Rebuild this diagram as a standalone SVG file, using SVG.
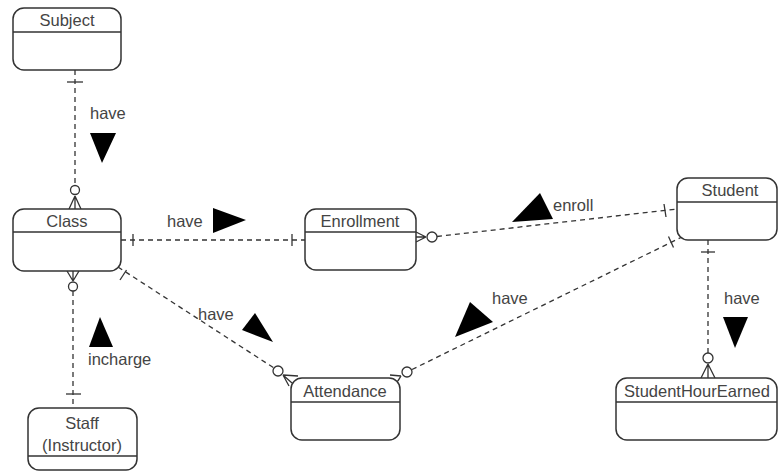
<svg xmlns="http://www.w3.org/2000/svg" width="779" height="473" viewBox="0 0 779 473">
<style>
.box{fill:#fff;stroke:#333;stroke-width:1.5}
.hdr{stroke:#333;stroke-width:1.3}
.t{font-family:"Liberation Sans",Arial,sans-serif;font-size:16.5px;fill:#444}
.c{text-anchor:middle}
.ln{fill:none;stroke:#333;stroke-width:1.3;stroke-dasharray:5,4}
.mk{fill:none;stroke:#333;stroke-width:1.3}
.ci{fill:#fff;stroke:#333;stroke-width:1.3}
.tri{fill:#000}
</style>
<rect width="779" height="473" fill="#fff"/>
<g id="connectors">
  <!-- Subject - Class -->
  <line class="ln" x1="75" y1="70" x2="75" y2="185.5"/>
  <line class="mk" x1="67" y1="82" x2="83" y2="82"/>
  <circle class="ci" cx="75" cy="190" r="4.5"/>
  <path class="mk" d="M75,196 L69,209 M75,196 L75,209 M75,196 L81,209"/>
  <text class="t" x="90" y="119">have</text>
  <polygon class="tri" points="90,133 116,133 102,163"/>

  <!-- Class - Staff -->
  <path class="mk" d="M73,281 L67,271 M73,281 L73,271 M73,281 L79,271"/>
  <circle class="ci" cx="73" cy="286.5" r="4.5"/>
  <line class="ln" x1="73" y1="291" x2="73" y2="408"/>
  <line class="mk" x1="66" y1="394" x2="81" y2="394"/>
  <polygon class="tri" points="100,317 113,347 89,347"/>
  <text class="t" x="88" y="365">incharge</text>

  <!-- Class - Enrollment -->
  <line class="ln" x1="121" y1="240" x2="305" y2="240"/>
  <line class="mk" x1="133" y1="234" x2="133" y2="246"/>
  <line class="mk" x1="292" y1="234" x2="292" y2="246"/>
  <text class="t" x="167" y="227">have</text>
  <polygon class="tri" points="213,208 246,220 213,233"/>

  <!-- Enrollment - Student -->
  <path class="mk" d="M426,237 L416,232 M426,237 L416,237 M426,237 L416,242"/>
  <circle class="ci" cx="432" cy="237" r="5"/>
  <line class="ln" x1="437" y1="236.5" x2="677" y2="209"/>
  <line class="mk" x1="664" y1="204" x2="666" y2="217"/>
  <polygon class="tri" points="512,222 553,219 540,193"/>
  <text class="t" x="553" y="211">enroll</text>

  <!-- Class - Attendance -->
  <line class="ln" x1="118" y1="267" x2="274" y2="368"/>
  <line class="mk" x1="126.5" y1="270" x2="120" y2="280"/>
  <circle class="ci" cx="278" cy="371" r="5"/>
  <path class="mk" d="M283,375 L298,376 M283,375 L292,383 M283,375 L289,386"/>
  <text class="t" x="198" y="320">have</text>
  <polygon class="tri" points="242,330 255,313 273,342"/>

  <!-- Attendance - Student -->
  <path class="mk" d="M401,376 L390,375 M401,376 L395,385 M401,376 L398,381"/>
  <circle class="ci" cx="407" cy="372" r="5"/>
  <line class="ln" x1="412" y1="369.5" x2="682" y2="237"/>
  <line class="mk" x1="668.5" y1="236.5" x2="673.5" y2="247.5"/>
  <text class="t" x="492" y="304">have</text>
  <polygon class="tri" points="455,337 470,302 493,322"/>

  <!-- Student - StudentHourEarned -->
  <line class="ln" x1="708" y1="240" x2="708" y2="353"/>
  <line class="mk" x1="701" y1="252" x2="715" y2="252"/>
  <circle class="ci" cx="708" cy="358" r="5"/>
  <path class="mk" d="M708,364 L701,378 M708,364 L708,378 M708,364 L715,378"/>
  <text class="t" x="724" y="304">have</text>
  <polygon class="tri" points="723,317 748,317 735,348"/>
</g>
<g id="subject">
  <rect class="box" x="13" y="8" width="108" height="62" rx="11"/>
  <line class="hdr" x1="13" y1="32" x2="121" y2="32"/>
  <text class="t c" x="67" y="26">Subject</text>
</g>
<g id="class">
  <rect class="box" x="13" y="209" width="108" height="62" rx="11"/>
  <line class="hdr" x1="13" y1="232" x2="121" y2="232"/>
  <text class="t c" x="67" y="227">Class</text>
</g>
<g id="staff">
  <rect class="box" x="28" y="408" width="109" height="62" rx="11"/>
  <line class="hdr" x1="28" y1="456" x2="137" y2="456"/>
  <text class="t c" x="82" y="429">Staff</text>
  <text class="t c" x="82" y="451">(Instructor)</text>
</g>
<g id="enrollment">
  <rect class="box" x="305" y="209" width="111" height="61" rx="11"/>
  <line class="hdr" x1="305" y1="232" x2="416" y2="232"/>
  <text class="t c" x="360" y="227">Enrollment</text>
</g>
<g id="student">
  <rect class="box" x="677" y="178" width="100" height="62" rx="11"/>
  <line class="hdr" x1="677" y1="202" x2="777" y2="202"/>
  <text class="t c" x="730" y="196">Student</text>
</g>
<g id="attendance">
  <rect class="box" x="291" y="378" width="109" height="62" rx="11"/>
  <line class="hdr" x1="291" y1="402" x2="400" y2="402"/>
  <text class="t c" x="345" y="397">Attendance</text>
</g>
<g id="studenthourearned">
  <rect class="box" x="616" y="378" width="161" height="62" rx="11"/>
  <line class="hdr" x1="616" y1="402" x2="777" y2="402"/>
  <text class="t c" x="697" y="397">StudentHourEarned</text>
</g>
</svg>
